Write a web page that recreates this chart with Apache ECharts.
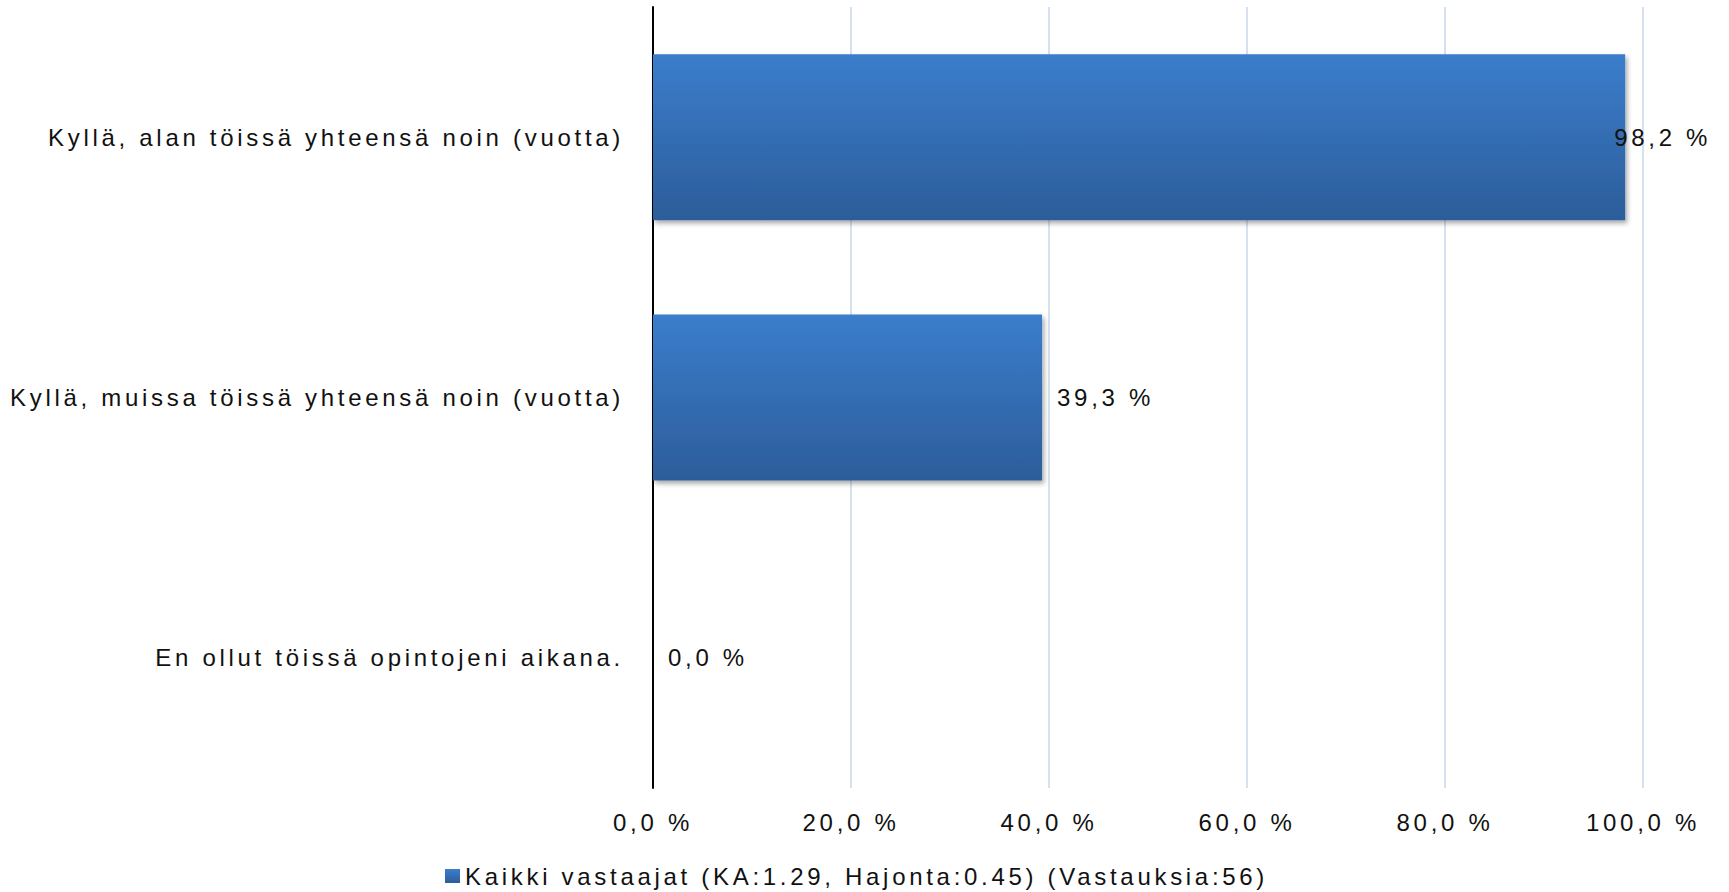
<!DOCTYPE html>
<html>
<head>
<meta charset="utf-8">
<script src="https://cdn.jsdelivr.net/npm/echarts@6/dist/echarts.min.js"></script>
<style>
  html, body { margin: 0; padding: 0; background: #fff; }
  #chart { width: 1729px; height: 892px; }
  /* the original uses spaced-out lettering */
  #chart text { letter-spacing: 3.7px; }
</style>
</head>
<body>
<div id="chart"></div>
<script>
const categories = [
  'Kyllä, alan töissä yhteensä noin (vuotta)',
  'Kyllä, muissa töissä yhteensä noin (vuotta)',
  'En ollut töissä opintojeni aikana.'
];
const values = [98.2, 39.3, 0.0];
const seriesName = 'Kaikki vastaajat (KA:1.29, Hajonta:0.45) (Vastauksia:56)';
const xTicks = [0, 20, 40, 60, 80, 100];

const pct = v => Number(v).toFixed(1).replace('.', ',') + ' %';
const font = { fontFamily: 'Liberation Sans, Arial, sans-serif', fontSize: 24, color: '#111' };

const chart = echarts.init(document.getElementById('chart'), null, { renderer: 'svg' });

const option = {
  backgroundColor: '#fff',
  animation: false,
  grid: { left: 653, top: 7, width: 990, height: 781, containLabel: false },
  legend: {
    left: 445,
    top: 862,
    padding: 0,
    itemWidth: 15,
    itemHeight: 14,
    icon: 'rect',
    textStyle: { ...font, lineHeight: 28 },
    data: [seriesName]
  },
  xAxis: {
    type: 'value',
    min: xTicks[0],
    max: xTicks[xTicks.length - 1],
    interval: 20,
    axisLine: { show: false },
    axisTick: { show: false },
    splitLine: { lineStyle: { color: '#d6e1ef', width: 2 } },
    axisLabel: { ...font, margin: 22, formatter: pct }
  },
  yAxis: {
    type: 'category',
    inverse: true,
    data: categories,
    axisLine: { lineStyle: { color: '#000', width: 2 } },
    axisTick: { show: false },
    axisLabel: { ...font, margin: 29 }
  },
  series: [{
    name: seriesName,
    type: 'bar',
    barWidth: 166,
    data: values.map((v, i) => ({
      value: v,
      label: i === 0 ? { offset: [-26, 0] } : {}
    })),
    itemStyle: {
      color: new echarts.graphic.LinearGradient(0, 0, 0, 1, [
        { offset: 0, color: '#3b7dcc' },
        { offset: 1, color: '#2c5d9a' }
      ]),
      shadowColor: 'rgba(0,0,0,0.35)',
      shadowBlur: 5,
      shadowOffsetX: 2,
      shadowOffsetY: 3
    },
    label: {
      show: true,
      position: 'right',
      distance: 15,
      ...font,
      formatter: p => pct(p.value)
    }
  }]
};

chart.setOption(option);
window.addEventListener('resize', () => chart.resize());
</script>
</body>
</html>
